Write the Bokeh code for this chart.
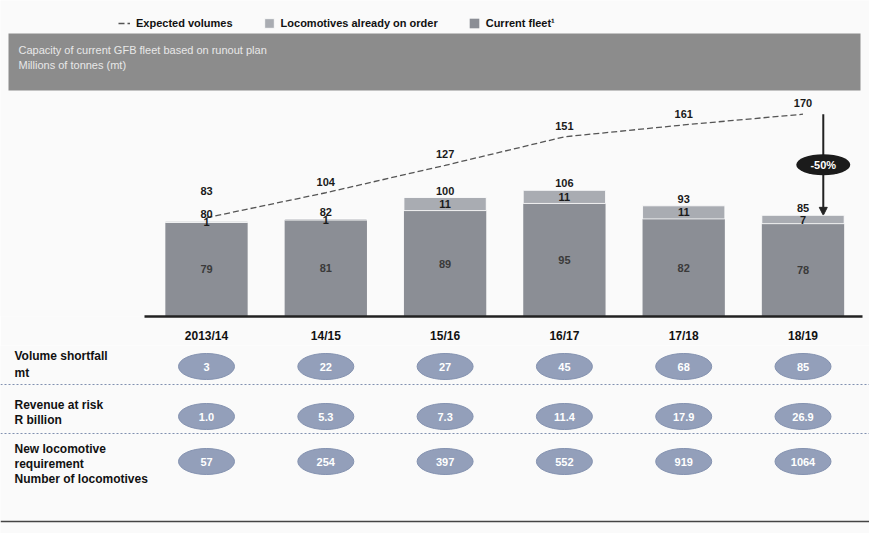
from bokeh.plotting import figure
from bokeh.models import (Range1d, FixedTicker, Legend, LegendItem, BoxAnnotation,
                          Label, Span, Arrow, NormalHead, ColumnDataSource)
from bokeh.layouts import column
from bokeh.core.properties import value
from bokeh.embed import file_html
from bokeh.resources import INLINE

# ---------------- data ----------------
years = ["2013/14", "14/15", "15/16", "16/17", "17/18", "18/19"]
fleet = [79, 81, 89, 95, 82, 78]
on_order = [1, 1, 11, 11, 11, 7]
expected = [83, 104, 127, 151, 161, 170]
shortfall = [3, 22, 27, 45, 68, 85]
revenue = [1.0, 5.3, 7.3, 11.4, 17.9, 26.9]
new_locos = [57, 254, 397, 552, 919, 1064]

row_titles = [["Volume shortfall", "mt"],
              ["Revenue at risk", "R billion"],
              ["New locomotive", "requirement", "Number of locomotives"]]

total = [f + o for f, o in zip(fleet, on_order)]
xs = list(range(len(years)))

# ---------------- layout constants ----------------
W = 869
H1 = 345
H2 = 188
X0PX = 206.0
XSTEP = 119.3
FH = 316            # approx frame height of top figure
YPX = 1.19          # px per million tonnes
SANS = "Liberation Sans"

FLEET_C = "#8b8e95"
ORDER_C = "#a9acb2"
ELL_C = "#939fba"

x_range = Range1d(-X0PX / XSTEP, (W - X0PX) / XSTEP)


def ydat(px):
    return (FH - px) / YPX


def xdat(px):
    return (px - X0PX) / XSTEP


# ---------------- top figure ----------------
p = figure(width=W, height=H1, x_range=x_range, y_range=Range1d(0, FH / YPX),
           output_backend="svg", toolbar_location=None, min_border=0,
           background_fill_color="#fafafa", border_fill_color="#fafafa",
           outline_line_color=None)
p.yaxis.visible = False
p.xgrid.visible = False
p.ygrid.visible = False

src = ColumnDataSource(dict(x=xs, fleet=fleet, on_order=on_order, total=total,
                            expected=expected,
                            fleet_mid=[f / 2 for f in fleet],
                            order_mid=[f + o / 2 for f, o in zip(fleet, on_order)],
                            fleet_lbl=[str(v) for v in fleet],
                            order_lbl=[str(v) for v in on_order],
                            total_lbl=[str(v) for v in total],
                            exp_lbl=[str(v) for v in expected],
                            exp_y=[max(e + 6, t + 22) for e, t in zip(expected, total)]))

# title band
p.add_layout(BoxAnnotation(left=xdat(8), right=xdat(860), top=ydat(33), bottom=ydat(90),
                           fill_color="#8c8c8c", fill_alpha=1, line_color=None, level="underlay"))
p.add_layout(Label(x=xdat(18), y=ydat(55), text="Capacity of current GFB fleet based on runout plan",
                   text_color="#e8e8e8", text_font=SANS, text_font_size="11px"))
p.add_layout(Label(x=xdat(18), y=ydat(70), text="Millions of tonnes (mt)",
                   text_color="#e8e8e8", text_font=SANS, text_font_size="11px"))

bw = 0.69
r_fleet = p.vbar(x="x", bottom=0, top="fleet", width=bw, source=src,
                 fill_color=FLEET_C, line_color=None)
r_order = p.vbar(x="x", bottom="fleet", top="total", width=bw, source=src,
                 fill_color=ORDER_C, line_color="white", line_width=0.8)
r_exp = p.line(x="x", y="expected", source=src, line_color="#555555", line_width=1.3,
               line_dash="6 3")

p.text(x="x", y="fleet_mid", text="fleet_lbl", source=src, text_align="center",
       text_baseline="middle", text_font=value(SANS), text_font_style="bold",
       text_font_size="11px", text_color="#3a3a3a")
p.text(x="x", y="order_mid", text="order_lbl", source=src, text_align="center",
       text_baseline="middle", text_font=value(SANS), text_font_style="bold",
       text_font_size="11px", text_color="#1a1a1a")
p.text(x="x", y="total", text="total_lbl", source=src, text_align="center",
       text_baseline="bottom", y_offset=-3, text_font=value(SANS), text_font_style="bold",
       text_font_size="11px", text_color="#1a1a1a")
p.text(x="x", y="exp_y", text="exp_lbl", source=src, text_align="center",
       text_baseline="bottom", text_font=value(SANS), text_font_style="bold",
       text_font_size="11px", text_color="#1a1a1a")

# -50% arrow for the last year
li = len(years) - 1
ax_x = xs[li] + 0.17
p.add_layout(Arrow(x_start=ax_x, y_start=expected[li], x_end=ax_x, y_end=total[li],
                   line_color="#222222", line_width=2, level="underlay",
                   end=NormalHead(size=8, fill_color="#222222", line_color="#222222")))
pct = round((total[li] - expected[li]) / expected[li] * 100)
mid = (expected[li] + total[li]) / 2
p.ellipse(x=[ax_x], y=[mid], width=54, height=21, width_units="screen",
          height_units="screen", fill_color="#1b1b1b", line_color=None)
p.text(x=[ax_x], y=[mid], text=[f"{pct}%"], text_align="center", text_baseline="middle",
       text_font=value(SANS), text_font_style="bold", text_font_size="11px",
       text_color="white")

# x axis with years
p.xaxis.ticker = FixedTicker(ticks=xs)
p.xaxis.major_label_overrides = {i: y for i, y in zip(xs, years)}
p.xaxis.major_tick_line_color = None
p.xaxis.minor_tick_line_color = None
p.xaxis.axis_line_color = "#222222"
p.xaxis.axis_line_width = 2.5
p.xaxis.bounds = (-0.52, xdat(862))
p.xaxis.major_label_standoff = 6
p.xaxis.major_label_text_font = SANS
p.xaxis.major_label_text_font_style = "bold"
p.xaxis.major_label_text_font_size = "12px"
p.xaxis.major_label_text_color = "#111111"

legend = Legend(items=[LegendItem(label="Expected volumes", renderers=[r_exp]),
                       LegendItem(label="Locomotives already on order", renderers=[r_order]),
                       LegendItem(label="Current fleet\u00b9", renderers=[r_fleet])],
                orientation="horizontal", location=(118, FH - 29),
                background_fill_alpha=0, border_line_color=None,
                label_text_font=SANS, label_text_font_style="bold",
                label_text_font_size="11px", label_text_color="#111111",
                glyph_width=12, glyph_height=12, label_standoff=6, spacing=30,
                padding=4, margin=0)
p.add_layout(legend)

# ---------------- table figure ----------------
q = figure(width=W, height=H2, x_range=x_range, y_range=Range1d(H2, 0),
           output_backend="svg", toolbar_location=None, min_border=0,
           background_fill_color="#fafafa", border_fill_color="#fafafa",
           outline_line_color=None)
q.xaxis.visible = False
q.yaxis.visible = False
q.xgrid.visible = False
q.ygrid.visible = False

row_values = [[str(v) for v in shortfall],
              [f"{v:.1f}" for v in revenue],
              [str(v) for v in new_locos]]
row_y = [21, 71, 116]
title_y = [[10, 27], [59, 74], [103, 118, 133]]

for vals, ry in zip(row_values, row_y):
    q.ellipse(x=xs, y=[ry] * len(xs), width=56, height=26, width_units="screen",
              height_units="screen", fill_color=ELL_C, line_color="#8492b0", line_width=1)
    q.text(x=xs, y=[ry] * len(xs), text=vals, text_align="center", text_baseline="middle",
           text_font=value(SANS), text_font_style="bold", text_font_size="11px",
           text_color="white")

for lines, ys in zip(row_titles, title_y):
    q.text(x=[xdat(14)] * len(lines), y=ys, text=lines, text_align="left",
           text_baseline="middle", text_font=value(SANS), text_font_style="bold",
           text_font_size="12px", text_color="#111111")

for sy in [39, 88]:
    q.add_layout(Span(location=sy, dimension="width", line_color="#8090b0",
                      line_dash="2 2", line_width=1.2))
q.add_layout(Span(location=176, dimension="width", line_color="#444444", line_width=1.5))

layout = column(p, q, spacing=0)
open("out.html", "w").write(file_html(layout, INLINE))
